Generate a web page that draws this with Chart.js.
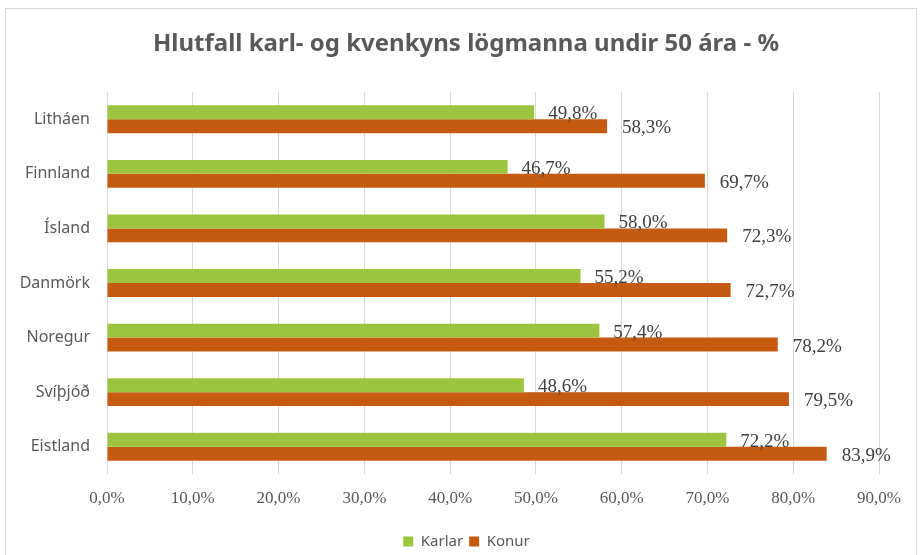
<!DOCTYPE html>
<html>
<head>
<meta charset="utf-8">
<script src="https://cdn.jsdelivr.net/npm/chart.js@4/dist/chart.umd.min.js"></script>
<style>
  html, body { margin: 0; padding: 0; background: #fff; }
  #wrap { width: 922px; height: 555px; }
</style>
</head>
<body>
<div id="wrap"><canvas id="chart" width="922" height="555"></canvas></div>
<script>
// gögn
const countries = ['Litháen', 'Finnland', 'Ísland', 'Danmörk', 'Noregur', 'Svíþjóð', 'Eistland'];
const karlar = [49.8, 46.7, 58.0, 55.2, 57.4, 48.6, 72.2];
const konur  = [58.3, 69.7, 72.3, 72.7, 78.2, 79.5, 83.9];
const xTicks = [0, 10, 20, 30, 40, 50, 60, 70, 80, 90];
const titleText = 'Hlutfall karl- og kvenkyns lögmanna undir 50 ára - %';

const fmt = v => v.toFixed(1).replace('.', ',') + '%';

// ramminn og fyrirsögnin
const frame = {
  id: 'frame',
  afterLayout(chart) {
    // skýringin á að vera fyrir miðju myndarinnar, ekki teiknisvæðisins
    if (chart.legend) { chart.legend.left += 27; chart.legend.right += 27; }
  },
  beforeDraw(chart) {
    const c = chart.ctx;
    c.save();
    c.fillStyle = '#fff';
    c.fillRect(0, 0, chart.width, chart.height);
    c.strokeStyle = '#d9d9d9';
    c.lineWidth = 1;
    c.strokeRect(5.5, 8.5, 911, 560);
    c.font = 'bold 24px "Noto Sans", sans-serif';
    c.fillStyle = '#595959';
    c.textAlign = 'center';
    c.textBaseline = 'middle';
    c.fillText(titleText, 466, 44);
    c.restore();
  }
};

// gildismerki við hverja súlu
const valueLabels = {
  id: 'valueLabels',
  afterDatasetsDraw(chart) {
    const c = chart.ctx;
    c.save();
    c.font = '19px "Liberation Serif", "Times New Roman", serif';
    c.fillStyle = '#404040';
    c.textBaseline = 'middle';
    c.textAlign = 'left';
    chart.data.datasets.forEach((ds, i) => {
      const meta = chart.getDatasetMeta(i);
      meta.data.forEach((el, j) => {
        const dx = i === 0 ? 14 : 15;
        c.fillText(fmt(ds.data[j]), el.x + dx, el.y + 2);
      });
    });
    c.restore();
  }
};

new Chart(document.getElementById('chart'), {
  type: 'bar',
  data: {
    labels: countries,
    datasets: [
      { label: 'Karlar', data: karlar, backgroundColor: '#9DC43F' },
      { label: 'Konur', data: konur, backgroundColor: '#C55A11' }
    ]
  },
  options: {
    indexAxis: 'y',
    responsive: false,
    animation: false,
    devicePixelRatio: 1,
    layout: { padding: { left: 0, right: 43, top: 92, bottom: -4 } },
    datasets: { bar: { categoryPercentage: 0.51, barPercentage: 1 } },
    plugins: {
      title: { display: false },
      legend: {
        position: 'bottom',
        labels: {
          boxWidth: 10, boxHeight: 10, padding: 6,
          color: '#595959',
          font: { family: '"Noto Sans", sans-serif', size: 15 }
        }
      },
      tooltip: { enabled: false }
    },
    scales: {
      x: {
        min: 0, max: 90,
        afterBuildTicks(scale) { scale.ticks = xTicks.map(v => ({ value: v })); },
        afterFit(scale) { scale.height = 54; },
        grid: { color: '#d9d9d9', drawTicks: false },
        border: { display: false },
        ticks: {
          padding: 14,
          color: '#595959',
          font: { family: '"Liberation Serif", serif', size: 17 },
          callback: v => fmt(v)
        }
      },
      y: {
        afterFit(scale) { scale.width = 107; },
        grid: { display: false, drawTicks: false },
        border: { display: false },
        ticks: {
          padding: 17,
          color: '#595959',
          font: { family: '"Noto Sans", sans-serif', size: 16 }
        }
      }
    }
  },
  plugins: [frame, valueLabels]
});
</script>
</body>
</html>
